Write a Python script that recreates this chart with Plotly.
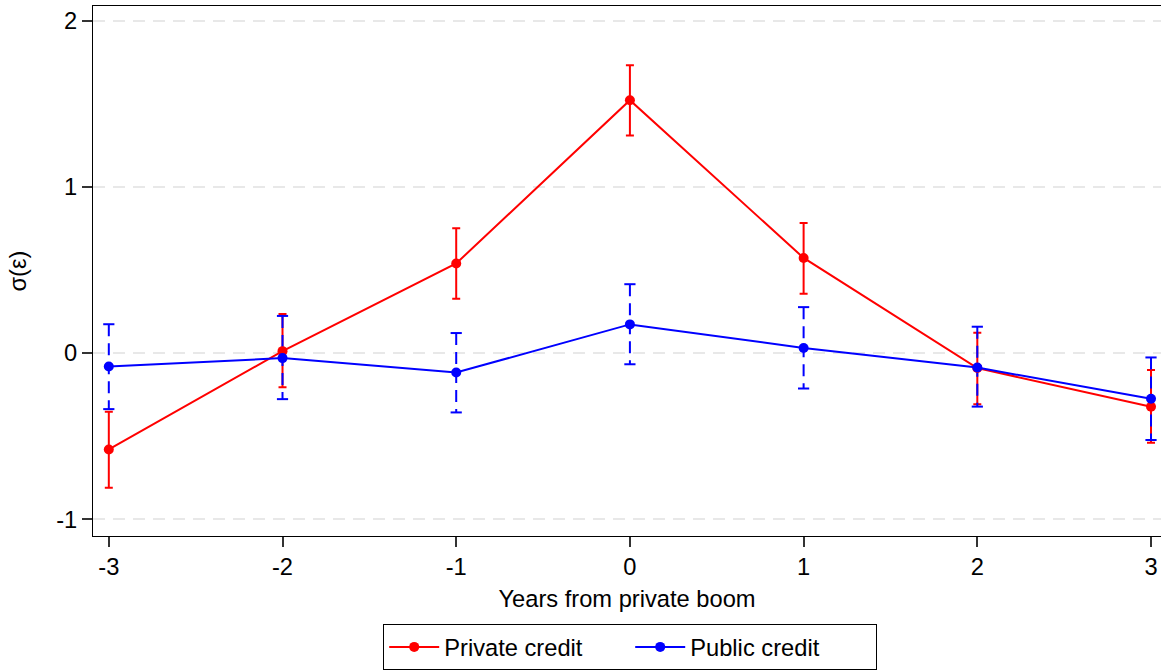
import plotly.graph_objects as go

# ---- data ----
years = [-3, -2, -1, 0, 1, 2, 3]
x_tick_labels = ["-3", "-2", "-1", "0", "1", "2", "3"]
y_tick_vals = [-1, 0, 1, 2]
y_tick_labels = ["-1", "0", "1", "2"]

private_credit = [-0.580, 0.012, 0.540, 1.523, 0.573, -0.090, -0.323]
private_lo = [-0.810, -0.205, 0.327, 1.311, 0.358, -0.308, -0.540]
private_hi = [-0.353, 0.235, 0.752, 1.734, 0.784, 0.123, -0.102]

public_credit = [-0.080, -0.030, -0.117, 0.173, 0.031, -0.087, -0.275]
public_lo = [-0.337, -0.277, -0.357, -0.067, -0.213, -0.322, -0.523]
public_hi = [0.174, 0.224, 0.121, 0.415, 0.277, 0.159, -0.026]

RED = "#FF0000"
BLUE = "#0000FF"
FONT = "Arial, Liberation Sans, sans-serif"
FS = 23.7

fig = go.Figure()

# Private credit error bars (solid)
fig.add_trace(go.Scatter(
    x=years, y=private_credit, mode="markers",
    marker=dict(size=1, color="rgba(0,0,0,0)"),
    error_y=dict(type="data", symmetric=False,
                 array=[h - v for h, v in zip(private_hi, private_credit)],
                 arrayminus=[v - l for l, v in zip(private_lo, private_credit)],
                 color=RED, thickness=2, width=4),
    showlegend=False, hoverinfo="skip"))

# Public credit error bars (dashed vertical + solid caps)
seg_x, seg_y = [], []
for xv, lo, hi in zip(years, public_lo, public_hi):
    seg_x += [xv, xv, None]
    seg_y += [hi, lo, None]
fig.add_trace(go.Scatter(
    x=seg_x, y=seg_y, mode="lines",
    line=dict(color=BLUE, width=2, dash="12px,7px"),
    showlegend=False, hoverinfo="skip"))
fig.add_trace(go.Scatter(
    x=years + years, y=public_lo + public_hi, mode="markers",
    marker=dict(symbol="line-ew", size=8, line=dict(color=BLUE, width=2)),
    showlegend=False, hoverinfo="skip"))

# Lines
fig.add_trace(go.Scatter(
    x=years, y=private_credit, mode="lines+markers", name="Private credit",
    line=dict(color=RED, width=2), marker=dict(color=RED, size=10)))
fig.add_trace(go.Scatter(
    x=years, y=public_credit, mode="lines+markers", name="Public credit",
    line=dict(color=BLUE, width=2), marker=dict(color=BLUE, size=10)))

fig.update_layout(
    width=1161, height=670,
    paper_bgcolor="white", plot_bgcolor="white",
    margin=dict(l=93, r=0, t=6, b=133),
    font=dict(family=FONT, size=FS, color="black"),
    showlegend=True,
    legend=dict(orientation="h", x=0.503, xanchor="center", y=-0.167, yanchor="top",
                bordercolor="black", borderwidth=1, font=dict(size=FS),
                itemwidth=50, entrywidth=181, entrywidthmode="pixels"),
    xaxis=dict(
        range=[-3.091, 3.0575], tickvals=years, ticktext=x_tick_labels,
        showgrid=False, zeroline=False,
        showline=True, linecolor="black", linewidth=1, mirror=True,
        ticks="outside", ticklen=10, tickcolor="#333", tickwidth=1.5,
        tickfont=dict(size=FS),
        title=dict(text="Years from private boom", font=dict(size=FS), standoff=10)),
    yaxis=dict(
        range=[-1.101, 2.090], tickvals=y_tick_vals, ticktext=y_tick_labels,
        showgrid=True, gridcolor="#e8e8e8", gridwidth=2, griddash="12px,8px",
        zeroline=False,
        showline=True, linecolor="black", linewidth=1,
        ticks="outside", ticklen=10, tickcolor="#333", tickwidth=1.5,
        tickfont=dict(size=FS),
        title=dict(text="σ(ε)", font=dict(size=FS), standoff=22)),
)

fig.write_html("out.html", config={"displayModeBar": False},
               post_script="document.body.style.margin='0';")
